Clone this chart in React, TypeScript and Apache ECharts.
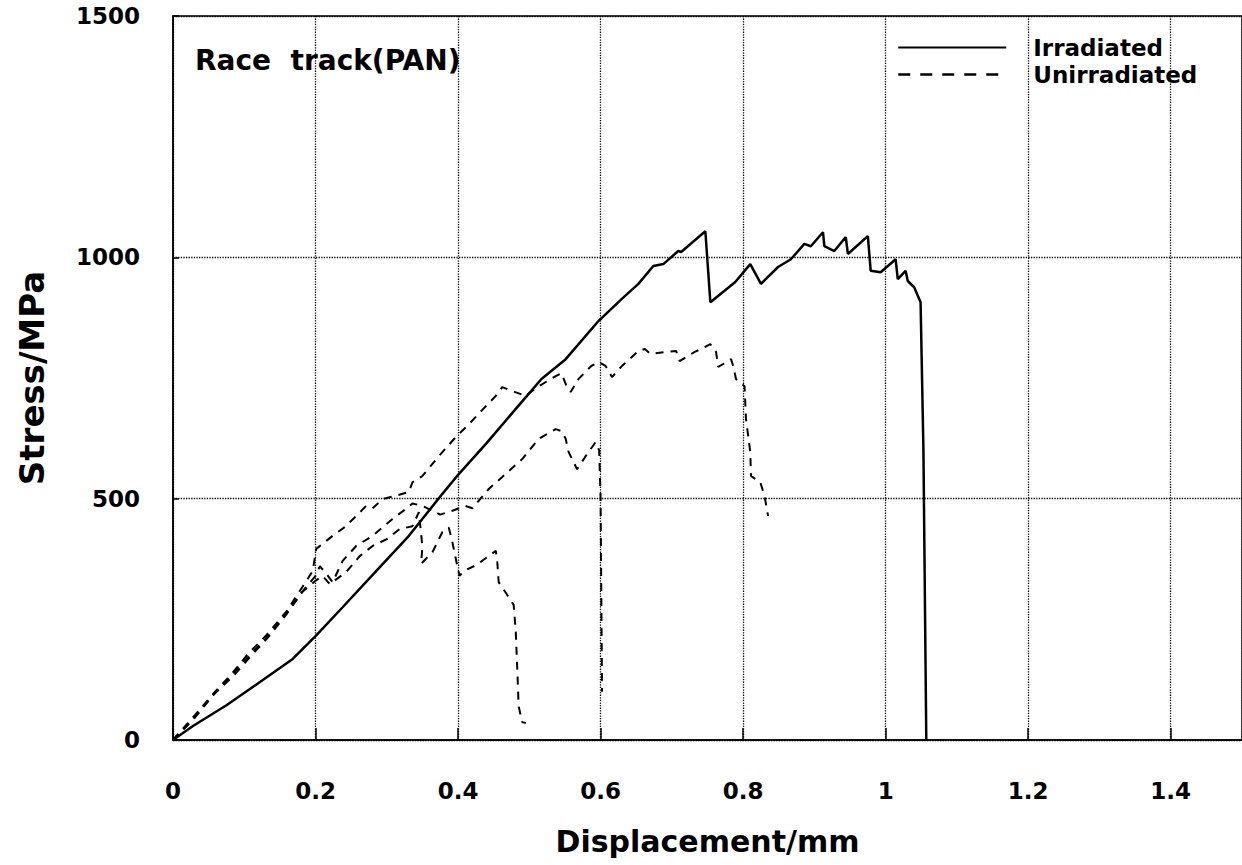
import React, { useEffect, useRef } from "react";
import * as echarts from "echarts";

// Displacement (mm), Stress (MPa)
const irradiated: [number, number][] = [
  [0, 0], [0.028, 29], [0.075, 72], [0.122, 120], [0.168, 168], [0.2, 215],
  [0.238, 275], [0.285, 350], [0.331, 423], [0.378, 510], [0.401, 551],
  [0.44, 615], [0.481, 686], [0.517, 748], [0.551, 789], [0.597, 868],
  [0.629, 913], [0.653, 945], [0.674, 982], [0.688, 986], [0.709, 1013],
  [0.713, 1011], [0.747, 1054], [0.754, 907], [0.789, 949], [0.81, 986],
  [0.825, 945], [0.849, 980], [0.867, 996], [0.886, 1028], [0.895, 1023],
  [0.912, 1052], [0.914, 1023], [0.928, 1013], [0.944, 1042], [0.947, 1007],
  [0.975, 1044], [0.979, 972], [0.993, 969], [1.014, 996], [1.017, 955],
  [1.028, 972], [1.031, 951], [1.04, 938], [1.049, 907], [1.053, 600], [1.057, 0],
];

const unirradiatedA: [number, number][] = [
  [0, 0], [0.031, 52], [0.059, 100], [0.083, 138], [0.105, 178], [0.131, 217],
  [0.159, 266], [0.182, 318], [0.196, 350], [0.201, 396], [0.224, 423],
  [0.24, 440], [0.257, 464], [0.271, 485], [0.28, 480], [0.294, 499],
  [0.31, 505], [0.331, 514], [0.336, 534], [0.35, 547], [0.373, 588],
  [0.397, 628], [0.415, 654], [0.434, 684], [0.453, 713], [0.462, 731],
  [0.476, 723], [0.495, 713], [0.51, 730], [0.537, 754], [0.545, 760],
  [0.552, 734], [0.558, 721], [0.569, 748], [0.587, 775], [0.597, 783],
  [0.607, 775], [0.616, 752], [0.63, 775], [0.653, 806], [0.662, 810],
  [0.67, 800], [0.691, 804], [0.706, 806], [0.711, 785], [0.732, 804],
  [0.741, 810], [0.754, 820], [0.762, 804], [0.765, 773], [0.772, 779],
  [0.783, 789], [0.786, 775], [0.79, 748], [0.802, 733], [0.804, 665],
  [0.81, 597], [0.811, 547], [0.824, 534], [0.83, 506], [0.835, 464],
];

const unirradiatedB: [number, number][] = [
  [0, 0], [0.03, 46], [0.058, 96], [0.085, 133], [0.108, 172], [0.133, 212],
  [0.16, 262], [0.184, 312], [0.2, 340], [0.206, 360], [0.215, 345],
  [0.224, 327], [0.238, 371], [0.257, 402], [0.28, 423], [0.308, 458],
  [0.327, 479], [0.336, 490], [0.35, 485], [0.375, 467], [0.392, 475],
  [0.41, 485], [0.42, 480], [0.443, 520], [0.462, 545], [0.49, 582],
  [0.513, 624], [0.537, 644], [0.545, 640], [0.551, 624], [0.555, 597],
  [0.567, 561], [0.579, 588], [0.593, 617], [0.598, 600], [0.6, 500],
  [0.601, 300], [0.602, 100],
];

const unirradiatedC: [number, number][] = [
  [0, 0], [0.028, 42], [0.056, 92], [0.08, 130], [0.104, 170], [0.13, 210],
  [0.156, 256], [0.18, 305], [0.2, 330], [0.21, 340], [0.22, 323],
  [0.243, 348], [0.262, 381], [0.28, 402], [0.3, 416], [0.318, 437],
  [0.336, 443], [0.345, 472], [0.35, 400], [0.348, 365], [0.364, 389],
  [0.378, 431], [0.387, 440], [0.392, 410], [0.399, 360], [0.402, 340],
  [0.408, 350], [0.425, 362], [0.443, 381], [0.453, 392], [0.455, 369],
  [0.457, 327], [0.467, 305], [0.478, 280], [0.481, 224], [0.483, 150],
  [0.485, 70], [0.49, 37], [0.495, 35],
];

const X_TICK_LABELS = ["0", "0.2", "0.4", "0.6", "0.8", "1", "1.2", "1.4"];
const Y_TICK_LABELS = ["0", "500", "1000", "1500"];

const FONT = "DejaVu Sans";

export default function App() {
  const ref = useRef<HTMLDivElement>(null);
  useEffect(() => {
    if (!ref.current) return;
    const chart = echarts.init(ref.current, undefined, { renderer: "svg" });
    const dashed = (data: [number, number][]) => ({
      name: "Unirradiated",
      type: "line",
      data,
      color: "#000",
      showSymbol: false,
      symbol: "none",
      lineStyle: { color: "#000", width: 2, type: [8, 7] },
      z: 3,
    });
    chart.setOption({
      animation: false,
      backgroundColor: "#fff",
      title: {
        text: "Race  track(PAN)",
        left: 190,
        top: 41,
        textStyle: { fontFamily: FONT, fontWeight: "bold", fontSize: 28, color: "#000" },
      },
      legend: {
        data: [
          { name: "Irradiated" },
          { name: "Unirradiated", lineStyle: { type: [12, 10], width: 2.5 } },
        ],
        orient: "vertical",
        left: 897,
        top: 36,
        padding: 0,
        itemWidth: 108,
        itemHeight: 14,
        itemGap: 4,
        selectedMode: false,
        itemStyle: { opacity: 0 },
        textStyle: {
          fontFamily: FONT,
          fontWeight: "bold",
          fontSize: 23,
          color: "#000",
          padding: [0, 0, 0, 22],
        },
      },
      grid: {
        left: 173,
        right: 0,
        top: 16,
        bottom: 125,
        show: true,
        borderColor: "#000",
        borderWidth: 1.5,
      },
      xAxis: {
        type: "value",
        min: 0,
        max: 1.5,
        interval: 0.2,
        name: "Displacement/mm",
        nameLocation: "middle",
        nameGap: 86,
        nameTextStyle: { fontFamily: FONT, fontWeight: "bold", fontSize: 30, color: "#000" },
        axisLine: { show: true, onZero: false, lineStyle: { color: "#000", width: 1.5 } },
        axisTick: { show: true, inside: true, length: 12, lineStyle: { color: "#000", width: 1.5 } },
        axisLabel: {
          margin: 39,
          fontFamily: FONT,
          fontWeight: "bold",
          fontSize: 23,
          color: "#000",
          showMaxLabel: false,
          formatter: (v: number) => {
            const i = Math.round(v / 0.2);
            return Math.abs(v - i * 0.2) < 1e-6 && i < X_TICK_LABELS.length ? X_TICK_LABELS[i] : "";
          },
        },
        splitLine: { show: true, lineStyle: { type: "dotted", color: "#000", width: 1.3 } },
      },
      yAxis: {
        type: "value",
        min: 0,
        max: 1500,
        interval: 500,
        name: "Stress/MPa",
        nameLocation: "middle",
        nameGap: 124,
        nameTextStyle: { fontFamily: FONT, fontWeight: "bold", fontSize: 34, color: "#000" },
        axisLine: { show: true, lineStyle: { color: "#000", width: 1.5 } },
        axisTick: { show: true, inside: true, length: 6, lineStyle: { color: "#000", width: 1.5 } },
        axisLabel: {
          margin: 33,
          fontFamily: FONT,
          fontWeight: "bold",
          fontSize: 23,
          color: "#000",
          padding: [10, 0, 0, 0],
          formatter: (v: number) => Y_TICK_LABELS[Math.round(v / 500)] ?? "",
        },
        splitLine: { show: true, lineStyle: { type: "dotted", color: "#000", width: 1.3 } },
      },
      series: [
        {
          name: "Irradiated",
          type: "line",
          data: irradiated,
          color: "#000",
          showSymbol: false,
          symbol: "none",
          lineStyle: { color: "#000", width: 2.5, type: "solid" },
          z: 4,
        },
        dashed(unirradiatedA),
        dashed(unirradiatedB),
        dashed(unirradiatedC),
      ],
    });
    return () => chart.dispose();
  }, []);
  return (
    <div
      ref={ref}
      style={{ position: "absolute", left: 0, top: 0, width: 1242, height: 865 }}
    />
  );
}
